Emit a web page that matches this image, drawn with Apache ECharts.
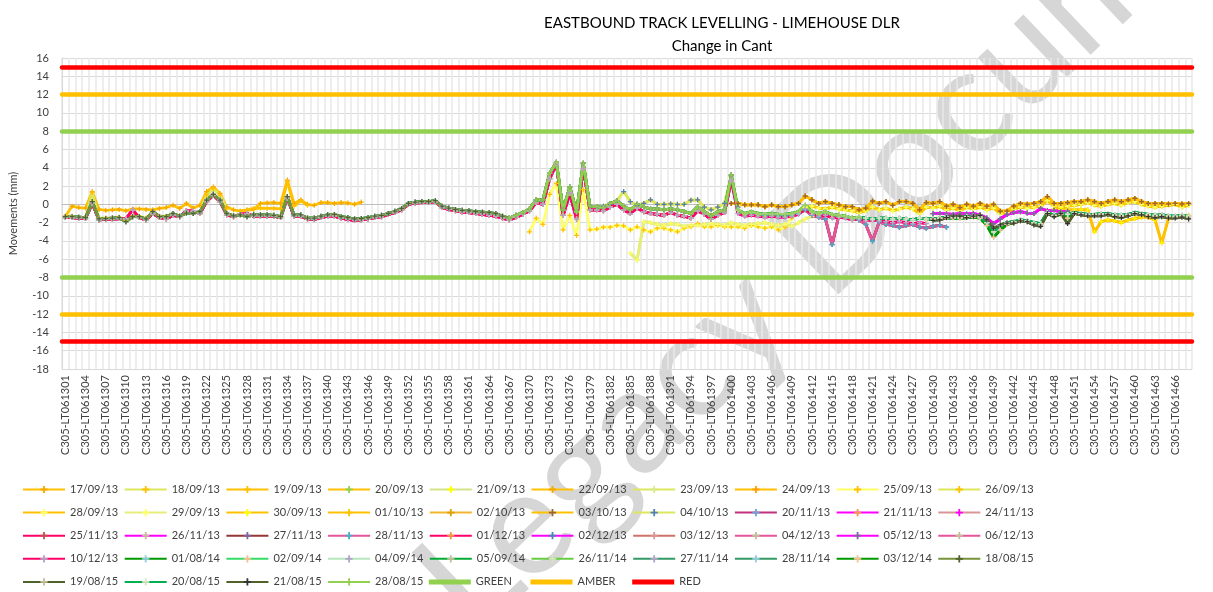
<!DOCTYPE html>
<html>
<head>
<meta charset="utf-8">
<title>Eastbound Track Levelling - Limehouse DLR</title>
<script src="https://cdn.jsdelivr.net/npm/echarts@6.0.0/dist/echarts.min.js"></script>
<style>
  html, body { margin: 0; padding: 0; background: #fff; }
  #chart { width: 1213px; height: 592px; }
</style>
</head>
<body>
<div id="chart"></div>
<script>
// survey points C305-LT061301 .. C305-LT061468
const firstPoint = 1301;
const pointCount = 168;
const categories = [];
for (let n = 0; n < pointCount; n++) categories.push('C305-LT06' + (firstPoint + n));

// change in cant (mm); each block starts at the index noted
// main cluster, points 0..99
const clusterLeft = [
  -1.35, -1.35, -1.4, -1.45, 0.3, -1.6, -1.55, -1.5, -1.45, -1.9,
  -1.35, -1.35, -1.6, -0.8, -1.35, -1.35, -1.0, -1.3, -0.95, -1.0,
  -0.8, 0.45, 1.1, 0.45, -1.0, -1.25, -1.15, -1.35, -1.15, -1.15,
  -1.15, -1.2, -1.35, 0.85, -1.15, -1.15, -1.5, -1.5, -1.3, -1.15,
  -1.1, -1.35, -1.45, -1.6, -1.55, -1.45, -1.3, -1.2, -1.0, -0.75,
  -0.45, 0.1, 0.25, 0.3, 0.3, 0.4, -0.2, -0.4, -0.55, -0.65,
  -0.7, -0.8, -0.85, -0.9, -1.0, -1.3, -1.5, -1.2, -0.9, -0.5,
  0.5, 0.5, 3.4, 4.6, -0.6, 1.9, -0.8, 4.5, -0.2, -0.25,
  -0.35, 0.1, 0.4, -0.2, -0.6, 0.0, -0.3, -0.5, -0.5, -0.6,
  -0.5, -0.6, -0.8, -1.0, -0.25, -0.8, -1.25, -0.8, -0.6, 3.2
];
// pink / magenta cluster, points 0..99
const clusterLow = [
  -1.45, -1.45, -1.5, -1.55, 0.1, -1.7, -1.65, -1.6, -1.55, -1.6,
  -0.6, -1.45, -1.7, -1.0, -1.45, -1.6, -1.2, -1.35, -0.7, -0.75,
  -1.0, 0.3, 1.0, 0.3, -1.15, -1.35, -1.1, -1.0, -1.3, -1.3,
  -1.3, -1.3, -1.45, 0.7, -1.3, -1.3, -1.6, -1.65, -1.45, -1.3,
  -1.3, -1.5, -1.65, -1.75, -1.7, -1.6, -1.45, -1.35, -1.1, -0.9,
  -0.6, 0.0, 0.15, 0.2, 0.2, 0.3, -0.35, -0.55, -0.7, -0.85,
  -0.9, -1.0, -1.1, -1.2, -1.3, -1.5, -1.7, -1.4, -1.1, -0.7,
  0.2, 0.0, 2.8, 4.4, -1.2, 1.2, -1.6, 3.9, -0.6, -0.6,
  -0.7, -0.3, 0.0, -0.6, -1.0, -0.4, -0.8, -1.0, -1.1, -1.2,
  -0.9, -1.2, -1.3, -1.5, -0.7, -1.1, -1.6, -1.2, -0.9, 2.6
];
// green cluster, points 100..167
const greenRight = [
  -0.6, -1.0, -0.8, -1.0, -1.1, -1.0, -1.1, -1.1, -1.0, -0.8,
  -0.1, -0.8, -1.0, -0.8, -1.1, -1.2, -1.3, -1.5, -1.4, -1.5,
  -1.6, -1.5, -1.5, -1.6, -1.5, -1.6, -1.7, -1.5, -1.6, -1.6,
  -1.5, -1.4, -1.4, -1.45, -1.35, -1.3, -1.4, -2.0, -3.0, -2.3,
  -2.0, -1.9, -1.7, -1.8, -2.0, -2.1, -0.9, -1.2, -1.0, -1.1,
  -0.9, -1.0, -1.1, -1.1, -1.05, -1.0, -1.15, -1.2, -1.1, -0.9,
  -1.0, -1.1, -1.2, -1.15, -1.25, -1.3, -1.2, -1.3
];
// dark green, points 128..167
const darkGreenRight = [
  -1.7, -1.6, -1.5, -1.5, -1.5, -1.55, -1.45, -1.4, -1.5, -2.3,
  -3.6, -2.8, -2.2, -2.0, -1.8, -1.9, -2.2, -2.3, -1.0, -1.3,
  -1.1, -1.5, -1.0, -1.1, -1.2, -1.2, -1.15, -1.05, -1.25, -1.3,
  -1.2, -1.0, -1.1, -1.2, -1.3, -1.25, -1.35, -1.4, -1.3, -1.4
];
// dark olive, points 129..167
const oliveRight = [
  -1.75, -1.7, -1.45, -1.3, -1.3, -1.45, -1.3, -1.2, -1.7, -2.6,
  -2.25, -2.05, -2.05, -1.8, -1.9, -2.25, -2.4, -1.0, -1.35, -1.0,
  -2.1, -1.0, -1.15, -1.25, -1.25, -1.25, -1.1, -1.35, -1.45, -1.25,
  -1.0, -1.15, -1.35, -1.45, -1.35, -1.5, -1.5, -1.4, -1.6
];
// pink with dips, points 104..131
const pinkRight = [
  -1.2, -1.1, -1.3, -1.3, -1.2, -1.0, -0.6, -1.2, -1.4, -1.6,
  -4.4, -1.2, -1.4, -1.5, -1.7, -2.2, -4.0, -1.9, -2.2, -2.3,
  -2.5, -2.3, -2.2, -2.5, -2.6, -2.4, -2.3, -2.5
];
// pink low, points 100..128
const pinkLowRight = [
  -1.0, -1.3, -1.2, -1.3, -1.4, -1.3, -1.4, -1.4, -1.3, -1.1,
  -0.5, -1.1, -1.3, -1.2, -1.5, -1.4, -1.5, -1.7, -1.6, -1.8,
  -1.7, -1.8, -1.9, -2.0, -1.9, -2.0, -2.1, -2.0, -2.1
];
// magenta, points 129..149
const magentaRight = [
  -1.0, -1.0, -1.05, -1.1, -1.0, -1.05, -1.0, -1.15, -1.5, -2.1,
  -1.6, -1.1, -0.9, -0.8, -0.95, -1.0, -0.45, -0.7, -0.65, -0.8, -0.75
];
// yellow upper, points 0..44
const yellowLeft = [
  -1.3, -0.2, -0.35, -0.4, 1.4, -0.55, -0.65, -0.6, -0.55, -0.7,
  -0.5, -0.5, -0.55, -0.6, -0.45, -0.35, -0.1, -0.45, 0.1, -0.4,
  -0.1, 1.4, 1.9, 1.2, -0.3, -0.6, -0.75, -0.65, -0.55, 0.1,
  0.15, 0.2, 0.1, 2.65, 0.1, 0.5, 0.0, -0.1, 0.2, 0.2,
  0.1, 0.2, 0.15, 0.0, 0.25
];
// yellow-green, points 0..24
const ygLeft = [
  -1.3, -1.3, -1.4, -1.45, 1.3, -1.5, -1.5, -1.45, -1.4, -1.8,
  -1.3, -1.3, -1.5, -0.9, -1.3, -1.3, -1.0, -1.25, -0.95, -1.0,
  -0.8, 1.0, 1.7, 1.0, -0.5
];
// orange, points 26..36
const orangeLeft = [-0.75, -0.6, -0.45, -0.4, -0.45, -0.45, -0.5, 2.5, -0.2, 0.4, -0.1];
// yellow lower, points 69..109
const yellowMid = [
  -3.0, -1.5, -2.2, 1.1, 2.3, -2.8, -1.2, -3.4, 1.6, -2.8,
  -2.7, -2.5, -2.5, -2.3, -2.35, -2.8, -2.45, -2.8, -3.0, -2.6,
  -2.6, -2.8, -3.0, -2.6, -2.45, -2.1, -2.45, -2.45, -2.3, -2.45,
  -2.45, -2.45, -2.6, -2.3, -2.45, -2.6, -2.45, -2.8, -2.5, -1.5,
  -0.8
];
// pale yellow, points 84..112
const yellowMid2 = [
  -5.35, -6.1, -1.9, -2.0, -2.2, -2.3, -2.1, -2.2, -2.4, -2.3,
  -2.3, -2.2, -2.1, -2.2, -2.3, -2.0, -2.2, -2.3, -2.2, -2.1,
  -2.0, -2.2, -2.3, -2.2, -2.4, -2.0, -1.6, -1.3, -1.0
];
// yellow-green upper, points 80..100
const ygMid = [
  -0.2, 0.0, 0.4, 1.4, 0.3, -0.1, 0.1, 0.5, 0.0, 0.0,
  0.05, 0.0, 0.0, 0.45, 0.5, -0.3, -0.6, -0.3, 0.1, 3.1, -0.3
];
// orange upper, points 99..167
const orangeRight = [
  0.1, 0.1, -0.05, -0.05, -0.05, -0.25, -0.05, -0.25, -0.25, -0.05,
  0.1, 0.9, 0.5, 0.1, 0.3, 0.1, -0.05, -0.25, -0.25, -0.6,
  -0.4, 0.35, 0.1, 0.3, -0.1, 0.3, 0.3, 0.1, -0.6, 0.2,
  0.1, 0.3, -0.2, 0.0, -0.35, 0.0, -0.2, 0.1, -0.2, 0.0,
  -0.75, -0.75, -0.2, 0.1, 0.0, 0.1, 0.3, 0.85, 0.1, 0.1,
  0.2, 0.3, 0.3, 0.5, 0.3, 0.1, 0.3, 0.5, 0.3, 0.5,
  0.65, 0.3, 0.1, 0.1, 0.1, 0.05, 0.1, 0.05, 0.1
];
// orange / yellow-green lower, points 110..167
const orangeRight2 = [
  -0.3, -0.2, -0.4, -0.5, -0.3, -0.5, -0.6, -0.7, -0.9, -0.7,
  -0.3, -0.6, -0.4, -0.7, -0.5, -0.3, -0.5, -1.0, -0.3, -0.4,
  -0.2, -0.6, -0.4, -0.7, -0.3, -0.5, -0.3, -0.6, -0.4, -1.0,
  -0.9, -0.5, -0.3, -0.4, -0.3, -0.2, 0.4, -0.2, -0.3, -0.2,
  -0.1, 0.0, 0.2, -0.1, -0.2, 0.0, 0.1, -0.1, 0.2, 0.3,
  0.0, -0.2, -0.3, -0.2, -0.1, 0.0, -0.3, -0.1
];
// orange with dips, points 147..167
const orangeDip = [
  -0.5, -0.55, -0.6, -0.6, -0.6, -0.6, -3.0, -1.9, -1.7, -1.8,
  -2.0, -1.7, -1.55, -1.4, -1.4, -1.7, -4.2, -1.55, -1.4, -1.3, -1.2
];
// alert levels (mm)
const greenLimit = [8, -8];
const amberLimit = [12, -12];
const redLimit = [15, -15];

function track(...parts) {
  const out = new Array(pointCount).fill(null);
  parts.forEach(([start, vals]) => vals.forEach((v, k) => { out[start + k] = v; }));
  return out;
}

// [name, line colour, marker colour, data]
const surveys = [
  ['17/09/13', '#FFC000', '#F5A800', track([0, yellowLeft])],
  ['18/09/13', '#DCE75B', '#FFC000', track([0, ygLeft])],
  ['19/09/13', '#FFC000', '#FFC000', track([26, orangeLeft])],
  ['20/09/13', '#FFC000', '#92D050', track([110, orangeRight2])],
  ['21/09/13', '#D4E48A', '#FFFF00', track([110, orangeRight2])],
  ['22/09/13', '#FFC000', '#F5A800', track([147, orangeDip])],
  ['23/09/13', '#DCE75B', '#D9EA8A', track([84, yellowMid2])],
  ['24/09/13', '#FFC000', '#FFA000', track([99, orangeRight])],
  ['25/09/13', '#FFFF66', '#FFC000', track([69, yellowMid])],
  ['26/09/13', '#DCE75B', '#FFC000', track([80, ygMid])],
  ['28/09/13', '#FFC000', '#FFFF66', track([110, orangeRight2])],
  ['29/09/13', '#E5EE7A', '#FFFF66', track([84, yellowMid2])],
  ['30/09/13', '#FFC000', '#FFFF00', track([147, orangeDip])],
  ['01/10/13', '#FFC000', '#FFC000', track([99, orangeRight])],
  ['02/10/13', '#F2B531', '#E0A000', track([99, orangeRight])],
  ['03/10/13', '#FFC000', '#996633', track([99, orangeRight])],
  ['04/10/13', '#DCE75B', '#4F81BD', track([80, ygMid])],
  ['20/11/13', '#C0307F', '#6EA0D8', track([104, pinkRight])],
  ['21/11/13', '#FF00FF', '#F79646', track([129, magentaRight])],
  ['24/11/13', '#D99694', '#FF00FF', track([0, clusterLow])],
  ['25/11/13', '#FF0066', '#C0504D', track([0, clusterLow])],
  ['26/11/13', '#FF00FF', '#C4BD97', track([0, clusterLow], [100, pinkLowRight])],
  ['27/11/13', '#943634', '#8064A2', track([104, pinkRight])],
  ['28/11/13', '#E4559B', '#4BACC6', track([104, pinkRight])],
  ['01/12/13', '#FF0066', '#F79646', track([0, clusterLow])],
  ['02/12/13', '#FF00FF', '#4F81BD', track([129, magentaRight])],
  ['03/12/13', '#D0706A', '#D99694', track([0, clusterLow])],
  ['04/12/13', '#E4559B', '#C4BD97', track([0, clusterLow])],
  ['05/12/13', '#FF00FF', '#8064A2', track([129, magentaRight])],
  ['06/12/13', '#E4559B', '#C4BD97', track([0, clusterLow])],
  ['10/12/13', '#FF0066', '#B3A2C7', track([0, clusterLow], [100, pinkLowRight])],
  ['01/08/14', '#009900', '#93CDDD', track([128, darkGreenRight])],
  ['02/09/14', '#33DD66', '#FAC090', track([0, clusterLeft])],
  ['04/09/14', '#B6E6BD', '#B3A2C7', track([0, clusterLeft])],
  ['05/09/14', '#00AA33', '#C4BD97', track([0, clusterLeft], [100, greenRight])],
  ['26/11/14', '#66CC44', '#D7E4BD', track([0, clusterLeft], [100, greenRight])],
  ['27/11/14', '#339966', '#B3A2C7', track([0, clusterLeft], [100, greenRight])],
  ['28/11/14', '#339966', '#93CDDD', track([0, clusterLeft], [100, greenRight])],
  ['03/12/14', '#009900', '#FAC090', track([128, darkGreenRight])],
  ['18/08/15', '#77933C', '#4F6228', track([0, clusterLeft])],
  ['19/08/15', '#4F6228', '#C4BD97', track([129, oliveRight])],
  ['20/08/15', '#00B050', '#D7E4BD', track([100, greenRight])],
  ['21/08/15', '#4F6228', '#333333', track([129, oliveRight])],
  ['28/08/15', '#92D050', '#92D050', track([66, clusterLeft.slice(66)], [100, greenRight.slice(0, 19)])]
];
const limits = [
  ['GREEN', '#92D050', greenLimit],
  ['AMBER', '#FFC000', amberLimit],
  ['RED', '#FF0000', redLimit]
];

const plus = 'path://M3,0H5V3H8V5H5V8H3V5H0V3H3Z';
const bar = 'path://M0,0H42V5H0Z';
const font = 'Lato, "DejaVu Sans", sans-serif';

const series = surveys.map(([name, lineColor, markColor, data]) => ({
  name: name,
  type: 'line',
  data: data,
  symbol: plus,
  symbolSize: 5,
  showAllSymbol: true,
  connectNulls: false,
  lineStyle: { color: lineColor, width: 2.75 },
  itemStyle: { color: markColor },
  emphasis: { disabled: true }
})).concat(limits.map(([name, color, levels]) => ({
  name: name,
  type: 'line',
  data: [],
  symbol: 'none',
  lineStyle: { color: color, width: 4.5 },
  itemStyle: { color: color },
  markLine: {
    silent: true,
    symbol: ['none', 'none'],
    label: { show: false },
    lineStyle: { color: color, width: 4.5, type: 'solid', cap: 'round' },
    data: levels.map(v => ({ yAxis: v }))
  }
})));

// legend laid out as a fixed grid, 10 entries per row like the spreadsheet
const legendItems = surveys.map(s => s[0]).concat(limits.map(l => ({ name: l[0], icon: bar })));
const legends = legendItems.map((item, k) => ({
  data: [item],
  left: 17 + (k % 10) * 101.7,
  top: 478 + Math.floor(k / 10) * 23.1,
  itemWidth: 42,
  itemHeight: 9,
  textStyle: { fontFamily: font, fontSize: 11, color: '#404040', lineHeight: 13 }
}));

const chart = echarts.init(document.getElementById('chart'));
chart.setOption({
  animation: false,
  textStyle: { fontFamily: font },
  title: {
    text: 'EASTBOUND TRACK LEVELLING - LIMEHOUSE DLR\nChange in Cant',
    left: 717,
    top: 7,
    textAlign: 'center',
    textStyle: { fontFamily: font, fontSize: 15, fontWeight: 'normal', color: '#000', lineHeight: 23 }
  },
  graphic: [{
    type: 'text',
    x: 868,
    y: 200,
    rotation: 0.76,
    z: -10,
    silent: true,
    style: {
      text: 'Legacy Document',
      font: 'normal 149px Lato',
      fill: '#d6d6d6',
      align: 'center',
      verticalAlign: 'middle'
    }
  }],
  grid: { left: 62, right: 21, top: 58, bottom: 223 },
  legend: legends,
  xAxis: {
    type: 'category',
    data: categories,
    boundaryGap: true,
    axisLine: { lineStyle: { color: '#bfbfbf' } },
    axisTick: { show: false },
    axisLabel: { rotate: 90, interval: 2, fontSize: 11, color: '#404040', margin: 6 },
    splitLine: { show: true, interval: 0, lineStyle: { color: '#e9e9e9', width: 1.5 } }
  },
  yAxis: {
    type: 'value',
    min: -18,
    max: 16,
    interval: 2,
    name: 'Movements (mm)',
    nameLocation: 'middle',
    nameGap: 43,
    nameTextStyle: { fontSize: 11, color: '#404040' },
    axisLine: { show: true, lineStyle: { color: '#d9d9d9' } },
    axisTick: { show: false },
    axisLabel: { fontSize: 11, color: '#404040', margin: 13 },
    splitLine: { lineStyle: { color: '#d9d9d9' } }
  },
  series: series
});
</script>
</body>
</html>
